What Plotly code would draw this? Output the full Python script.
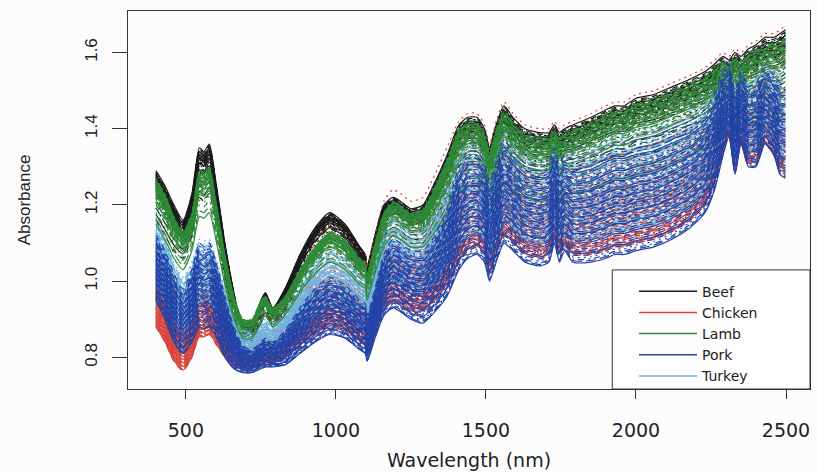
import plotly.graph_objects as go
import numpy as np

# Wavelength knots (nm)
wavelength = [400, 430, 460, 490, 520, 545, 560, 578, 600, 630, 660, 690, 720, 750, 765, 790,
              830, 880, 930, 980, 1030, 1080, 1098, 1104, 1130, 1160, 1190, 1215, 1250, 1290,
              1330, 1370, 1410, 1440, 1470, 1495, 1512, 1530, 1560, 1590, 1630, 1680, 1710,
              1728, 1745, 1762, 1790, 1850, 1900, 1930, 1960, 2000, 2060, 2120, 2180, 2230,
              2262, 2290, 2310, 2330, 2350, 2375, 2400, 2430, 2460, 2480, 2498]

# Upper / lower spectra of each class
beef_hi = [1.29, 1.25, 1.20, 1.16, 1.23, 1.35, 1.34, 1.36, 1.26, 1.10, 0.97, 0.88, 0.88, 0.95, 0.97, 0.93,
           0.98, 1.07, 1.14, 1.18, 1.15, 1.09, 1.07, 1.04, 1.12, 1.20, 1.22, 1.21, 1.19, 1.20,
           1.26, 1.33, 1.41, 1.43, 1.43, 1.40, 1.35, 1.40, 1.46, 1.43, 1.40, 1.39, 1.39,
           1.41, 1.39, 1.40, 1.41, 1.43, 1.45, 1.46, 1.46, 1.48, 1.49, 1.51, 1.53, 1.55,
           1.57, 1.59, 1.58, 1.60, 1.59, 1.61, 1.62, 1.64, 1.64, 1.65, 1.66]
beef_lo = [1.16, 1.12, 1.08, 1.06, 1.12, 1.22, 1.21, 1.23, 1.15, 1.01, 0.90, 0.84, 0.84, 0.89, 0.91, 0.88,
           0.92, 1.00, 1.06, 1.09, 1.07, 1.02, 1.00, 0.97, 1.04, 1.11, 1.13, 1.12, 1.10, 1.10,
           1.15, 1.21, 1.27, 1.29, 1.29, 1.27, 1.22, 1.26, 1.32, 1.29, 1.26, 1.256, 1.26,
           1.28, 1.26, 1.27, 1.27, 1.29, 1.30, 1.31, 1.31, 1.33, 1.34, 1.355, 1.37, 1.38,
           1.40, 1.43, 1.42, 1.44, 1.43, 1.44, 1.45, 1.46, 1.47, 1.47, 1.48]
lamb_hi = [1.27, 1.23, 1.17, 1.13, 1.18, 1.29, 1.285, 1.30, 1.21, 1.07, 0.96, 0.90, 0.90, 0.95, 0.96, 0.93,
           0.96, 1.03, 1.09, 1.13, 1.11, 1.06, 1.05, 1.02, 1.10, 1.18, 1.21, 1.20, 1.18, 1.19,
           1.25, 1.32, 1.40, 1.42, 1.42, 1.39, 1.34, 1.39, 1.45, 1.42, 1.39, 1.38, 1.38,
           1.40, 1.38, 1.39, 1.40, 1.42, 1.44, 1.45, 1.45, 1.47, 1.48, 1.50, 1.52, 1.54,
           1.56, 1.58, 1.57, 1.59, 1.58, 1.60, 1.61, 1.62, 1.63, 1.63, 1.64]
lamb_lo = [1.15, 1.11, 1.06, 1.03, 1.08, 1.17, 1.165, 1.18, 1.11, 0.99, 0.90, 0.85, 0.85, 0.89, 0.91, 0.88,
           0.91, 0.97, 1.02, 1.05, 1.03, 0.99, 0.98, 0.95, 1.02, 1.09, 1.12, 1.11, 1.09, 1.09,
           1.13, 1.18, 1.23, 1.25, 1.25, 1.22, 1.18, 1.21, 1.26, 1.24, 1.22, 1.21, 1.215,
           1.24, 1.215, 1.23, 1.23, 1.24, 1.26, 1.27, 1.27, 1.28, 1.29, 1.31, 1.33, 1.35,
           1.37, 1.40, 1.39, 1.41, 1.40, 1.41, 1.42, 1.43, 1.43, 1.43, 1.44]
chicken_hi = [1.08, 1.04, 0.98, 0.95, 0.99, 1.05, 1.045, 1.06, 1.02, 0.95, 0.90, 0.87, 0.87, 0.90, 0.91, 0.90,
              0.94, 1.02, 1.10, 1.15, 1.13, 1.08, 1.07, 1.04, 1.12, 1.21, 1.24, 1.23, 1.21, 1.22,
              1.28, 1.35, 1.42, 1.44, 1.44, 1.41, 1.36, 1.41, 1.47, 1.44, 1.41, 1.40, 1.40,
              1.42, 1.40, 1.41, 1.42, 1.44, 1.46, 1.47, 1.47, 1.49, 1.50, 1.52, 1.54, 1.56,
              1.58, 1.60, 1.59, 1.61, 1.60, 1.62, 1.63, 1.65, 1.65, 1.66, 1.67]
chicken_lo = [0.88, 0.84, 0.79, 0.765, 0.80, 0.855, 0.852, 0.86, 0.835, 0.80, 0.78, 0.77, 0.77, 0.78, 0.785, 0.785,
              0.80, 0.83, 0.86, 0.88, 0.87, 0.84, 0.83, 0.81, 0.87, 0.93, 0.95, 0.94, 0.92, 0.92,
              0.95, 0.99, 1.05, 1.08, 1.09, 1.07, 1.02, 1.06, 1.12, 1.10, 1.07, 1.06, 1.07,
              1.11, 1.07, 1.09, 1.07, 1.07, 1.08, 1.09, 1.09, 1.10, 1.11, 1.13, 1.16, 1.20,
              1.26, 1.34, 1.38, 1.29, 1.36, 1.31, 1.31, 1.36, 1.33, 1.29, 1.28]
pork_hi = [1.12, 1.08, 1.02, 0.98, 1.03, 1.10, 1.09, 1.10, 1.05, 0.96, 0.88, 0.83, 0.82, 0.84, 0.85, 0.84,
           0.87, 0.93, 0.98, 1.01, 0.99, 0.95, 0.94, 0.91, 0.98, 1.07, 1.11, 1.10, 1.08, 1.08,
           1.12, 1.19, 1.30, 1.34, 1.34, 1.31, 1.26, 1.30, 1.37, 1.34, 1.31, 1.30, 1.31,
           1.35, 1.31, 1.33, 1.32, 1.33, 1.35, 1.36, 1.36, 1.37, 1.38, 1.40, 1.42, 1.45,
           1.49, 1.55, 1.57, 1.50, 1.55, 1.51, 1.52, 1.56, 1.54, 1.52, 1.52]
pork_lo = [0.95, 0.90, 0.84, 0.81, 0.84, 0.88, 0.875, 0.88, 0.855, 0.80, 0.77, 0.76, 0.76, 0.77, 0.775, 0.775,
           0.78, 0.81, 0.84, 0.86, 0.85, 0.82, 0.81, 0.79, 0.85, 0.91, 0.93, 0.92, 0.90, 0.89,
           0.92, 0.96, 1.03, 1.06, 1.07, 1.05, 1.00, 1.04, 1.10, 1.08, 1.05, 1.04, 1.05,
           1.10, 1.05, 1.08, 1.05, 1.05, 1.06, 1.07, 1.07, 1.08, 1.09, 1.11, 1.14, 1.18,
           1.24, 1.33, 1.38, 1.28, 1.36, 1.30, 1.30, 1.36, 1.33, 1.28, 1.27]
turkey_hi = [1.17, 1.12, 1.05, 1.01, 1.05, 1.11, 1.105, 1.11, 1.06, 0.98, 0.92, 0.88, 0.87, 0.89, 0.90, 0.89,
             0.92, 0.99, 1.05, 1.09, 1.07, 1.03, 1.02, 0.99, 1.07, 1.15, 1.18, 1.17, 1.15, 1.15,
             1.20, 1.27, 1.35, 1.38, 1.38, 1.35, 1.30, 1.35, 1.41, 1.38, 1.35, 1.34, 1.345,
             1.38, 1.345, 1.36, 1.36, 1.37, 1.39, 1.40, 1.40, 1.41, 1.42, 1.44, 1.46, 1.49,
             1.52, 1.57, 1.58, 1.53, 1.57, 1.54, 1.55, 1.58, 1.57, 1.56, 1.56]
turkey_lo = [1.00, 0.96, 0.90, 0.87, 0.90, 0.95, 0.945, 0.95, 0.915, 0.86, 0.82, 0.80, 0.80, 0.81, 0.815, 0.81,
             0.83, 0.87, 0.91, 0.93, 0.92, 0.88, 0.87, 0.845, 0.91, 0.98, 1.00, 0.99, 0.97, 0.97,
             1.00, 1.05, 1.10, 1.12, 1.13, 1.11, 1.06, 1.10, 1.16, 1.14, 1.11, 1.10, 1.11,
             1.15, 1.11, 1.13, 1.11, 1.11, 1.12, 1.13, 1.13, 1.14, 1.15, 1.17, 1.20, 1.24,
             1.29, 1.37, 1.41, 1.33, 1.39, 1.34, 1.35, 1.39, 1.37, 1.33, 1.32]

# Position of each sample between its class's lower (0) and upper (1) spectrum
beef_pos = [1.0, 0.97, 0.95, 0.94, 0.92, 0.91, 0.9, 0.88, 0.87, 0.86, 0.85, 0.83, 0.82, 0.81, 0.8, 0.78,
            0.77, 0.75, 0.74, 0.72, 0.7, 0.68, 0.66, 0.63, 0.6, 0.56, 0.52, 0.45, 0.36, 0.25, 0.12, 0.0]
chicken_pos = [1.0, 0.72, 0.64, 0.58, 0.55, 0.53, 0.5, 0.49, 0.47, 0.45, 0.44, 0.43, 0.41, 0.41, 0.4, 0.38,
               0.38, 0.37, 0.35, 0.35, 0.34, 0.33, 0.31, 0.31, 0.3, 0.29, 0.28, 0.26, 0.26, 0.25, 0.24,
               0.23, 0.22, 0.2, 0.2, 0.19, 0.18, 0.16, 0.16, 0.15, 0.14, 0.13, 0.12, 0.11, 0.1, 0.09,
               0.08, 0.07, 0.06, 0.05, 0.04, 0.03, 0.02, 0.01, 0.0]
lamb_pos = [1.0, 0.98, 0.96, 0.94, 0.93, 0.91, 0.9, 0.89, 0.87, 0.86, 0.85, 0.84, 0.82, 0.81, 0.8, 0.78,
            0.77, 0.76, 0.74, 0.72, 0.71, 0.69, 0.67, 0.65, 0.62, 0.6, 0.57, 0.53, 0.48, 0.42, 0.35,
            0.25, 0.12, 0.0]
pork_pos = [1.0, 0.96, 0.93, 0.9, 0.87, 0.85, 0.82, 0.8, 0.78, 0.76, 0.74, 0.72, 0.71, 0.69, 0.67, 0.66,
            0.64, 0.62, 0.61, 0.59, 0.58, 0.56, 0.55, 0.53, 0.52, 0.5, 0.49, 0.47, 0.46, 0.44, 0.43,
            0.41, 0.4, 0.38, 0.37, 0.35, 0.33, 0.32, 0.3, 0.28, 0.27, 0.25, 0.23, 0.21, 0.19, 0.17,
            0.15, 0.13, 0.11, 0.09, 0.07, 0.05, 0.03, 0.015, 0.0]
turkey_pos = [1.0, 0.95, 0.91, 0.88, 0.85, 0.83, 0.8, 0.78, 0.76, 0.74, 0.72, 0.7, 0.69, 0.67, 0.65, 0.64,
              0.62, 0.6, 0.59, 0.57, 0.56, 0.54, 0.53, 0.51, 0.5, 0.48, 0.47, 0.45, 0.44, 0.42, 0.41,
              0.39, 0.38, 0.36, 0.34, 0.33, 0.31, 0.3, 0.28, 0.26, 0.25, 0.23, 0.21, 0.19, 0.17, 0.15,
              0.13, 0.11, 0.09, 0.07, 0.05, 0.04, 0.02, 0.01, 0.0]

classes = ["Beef", "Chicken", "Lamb", "Pork", "Turkey"]
colors = {"Beef": "#1c1c1c", "Chicken": "#d8443c", "Lamb": "#2f8a38",
          "Pork": "#2443a6", "Turkey": "#70b4de"}
spectra = {"Beef": (beef_lo, beef_hi, beef_pos), "Chicken": (chicken_lo, chicken_hi, chicken_pos),
           "Lamb": (lamb_lo, lamb_hi, lamb_pos), "Pork": (pork_lo, pork_hi, pork_pos),
           "Turkey": (turkey_lo, turkey_hi, turkey_pos)}
draw_order = ["Beef", "Chicken", "Turkey", "Lamb", "Pork"]
dashes = ["solid", "6px,5px", "2px,4px", "2px,4px,6px,4px", "10px,4px"]

fig = go.Figure()
k = 0
for cls in draw_order:
    lo, hi, pos = spectra[cls]
    lo = np.array(lo)
    hi = np.array(hi)
    for f in pos:
        fig.add_trace(go.Scatter(x=wavelength, y=lo + f * (hi - lo), mode="lines",
                                 line=dict(color=colors[cls], width=1.2, dash=dashes[k % 5],
                                           shape="spline", smoothing=0.6),
                                 showlegend=False, hoverinfo="skip"))
        k += 1

for cls in classes:
    fig.add_trace(go.Scatter(x=[None], y=[None], mode="lines", name=cls,
                             line=dict(color=colors[cls], width=1.5)))

axis_col = "#333333"
fig.update_layout(
    width=817, height=473,
    margin=dict(l=128, r=6, t=11, b=81),
    paper_bgcolor="#fcfcfc", plot_bgcolor="#fcfcfc",
    font=dict(family="DejaVu Sans", color="#222222"),
    shapes=[dict(type="rect", xref="paper", yref="paper", x0=0.710, x1=1.0, y0=0, y1=0.315,
                 line=dict(color=axis_col, width=1), fillcolor="#fdfdfd", layer="above")],
    legend=dict(x=0.742, xanchor="left", y=0.30, yanchor="top",
                bgcolor="rgba(0,0,0,0)", borderwidth=0,
                font=dict(family="DejaVu Sans", size=14, color="#222222"),
                itemwidth=58, tracegroupgap=0),
    xaxis=dict(range=[307, 2580], tickvals=[500, 1000, 1500, 2000, 2500],
               ticks="outside", ticklen=9, tickcolor=axis_col, tickwidth=1,
               showline=True, mirror=True, linecolor=axis_col, linewidth=1,
               showgrid=False, zeroline=False, ticklabelstandoff=15,
               tickfont=dict(family="DejaVu Sans", size=19),
               title=dict(text="Wavelength (nm)", font=dict(family="DejaVu Sans", size=19),
                          standoff=13)),
    yaxis=dict(range=[0.717, 1.709], tickvals=[0.8, 1.0, 1.2, 1.4, 1.6],
               ticktext=["0.8", "1.0", "1.2", "1.4", "1.6"], tickangle=-90,
               ticks="outside", ticklen=15, tickcolor=axis_col, tickwidth=1,
               showline=True, mirror=True, linecolor=axis_col, linewidth=1,
               showgrid=False, zeroline=False, ticklabelstandoff=8,
               tickfont=dict(family="Liberation Sans", size=17),
               title=dict(text="Absorbance", font=dict(family="Liberation Sans", size=17),
                          standoff=47)),
)
fig.write_html("out.html")
